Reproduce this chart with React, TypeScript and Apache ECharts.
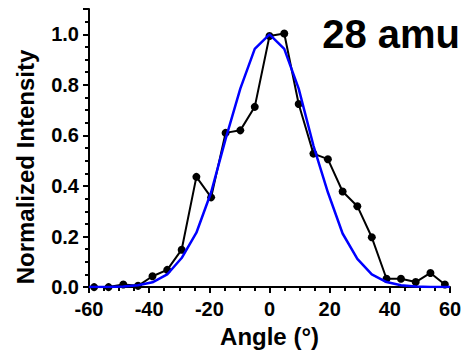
import React, { useEffect, useRef } from 'react';
import * as echarts from 'echarts';

const measuredAngles = [-58.3, -53.5, -48.6, -43.7, -38.9, -34.0, -29.2, -24.3, -19.4, -14.6, -9.7, -4.9, 0, 4.9, 9.7, 14.6, 19.4, 24.3, 29.2, 34.0, 38.9, 43.7, 48.6, 53.5, 58.3];
const measuredIntensity = [0.0, 0.0, 0.01, 0.005, 0.043, 0.068, 0.148, 0.436, 0.355, 0.61, 0.62, 0.713, 0.993, 1.003, 0.724, 0.528, 0.506, 0.378, 0.32, 0.197, 0.033, 0.033, 0.02, 0.056, 0.01];

const fitAngles = [-60, -58.3, -53.5, -48.6, -43.7, -38.9, -34.0, -29.2, -24.3, -19.4, -14.6, -9.7, -4.9, 0, 4.9, 9.7, 14.6, 19.4, 24.3, 29.2, 34.0, 38.9, 43.7, 48.6, 53.5, 58.3, 60];
const fitIntensity = [0, 0.0001, 0.0005, 0.002, 0.007, 0.019, 0.05, 0.115, 0.215, 0.375, 0.585, 0.785, 0.942, 1.0, 0.942, 0.785, 0.56, 0.375, 0.212, 0.112, 0.05, 0.02, 0.007, 0.002, 0.0005, 0.0001, 0];

const xMin = -60;
const xMax = 60;
const xStep = 20;
const yMin = 0;
const yMax = 1.1;
const yMajorStep = 0.2;
const yMinorStep = 0.05;

const title = '28 amu';
const xTitle = 'Angle (°)';
const yTitle = 'Normalized Intensity';

const FONT = '"Liberation Sans", Arial, sans-serif';

export default function App() {
  const ref = useRef<HTMLDivElement>(null);
  useEffect(() => {
    if (!ref.current) return;
    const chart = echarts.init(ref.current, undefined, { renderer: 'svg' });
    const measured = measuredAngles.map((a, i) => [a, measuredIntensity[i]]);
    const fit = fitAngles.map((a, i) => [a, fitIntensity[i]]);
    chart.setOption({
      animation: false,
      backgroundColor: '#ffffff',
      grid: { left: 89, right: 16, top: 9, bottom: 63, containLabel: false },
      xAxis: {
        type: 'value',
        min: xMin,
        max: xMax,
        interval: xStep,
        name: xTitle,
        nameLocation: 'middle',
        nameGap: 34,
        nameTextStyle: { fontFamily: FONT, fontWeight: 'bold', fontSize: 24, color: '#000' },
        axisLine: { show: true, onZero: false, lineStyle: { color: '#000', width: 2 } },
        axisTick: { show: true, inside: false, length: 6, lineStyle: { color: '#000', width: 2 } },
        minorTick: { show: true, splitNumber: 4, length: 4, lineStyle: { color: '#000', width: 2 } },
        splitLine: { show: false },
        axisLabel: { fontFamily: FONT, fontWeight: 'bold', fontSize: 20, color: '#000', margin: 12 },
      },
      yAxis: [
        {
          type: 'value',
          min: yMin,
          max: yMax,
          interval: yMinorStep,
          axisLine: { show: true, onZero: false, lineStyle: { color: '#000', width: 2 } },
          axisTick: { show: true, inside: false, length: 4, lineStyle: { color: '#000', width: 2 } },
          splitLine: { show: false },
          axisLabel: {
            fontFamily: FONT,
            fontWeight: 'bold',
            fontSize: 20,
            color: '#000',
            margin: 10,
            formatter: (v: number) => (Math.round(v * 100) % Math.round(yMajorStep * 100) === 0 ? v.toFixed(1) : ''),
          },
        },
        {
          type: 'value',
          min: yMin,
          max: yMax,
          interval: yMajorStep,
          position: 'left',
          axisLine: { show: false, onZero: false },
          axisTick: { show: true, inside: false, length: 6, lineStyle: { color: '#000', width: 2 } },
          splitLine: { show: false },
          axisLabel: { show: false },
        },
      ],
      graphic: [
        {
          type: 'text',
          x: 460,
          y: 34,
          style: { text: title, font: `bold 40px ${FONT}`, fill: '#000', align: 'right', verticalAlign: 'middle' },
        },
        {
          type: 'text',
          x: 25,
          y: 167,
          rotation: Math.PI / 2,
          style: { text: yTitle, font: `bold 24px ${FONT}`, fill: '#000', align: 'center', verticalAlign: 'middle' },
        },
      ],
      series: [
        {
          type: 'line',
          data: measured,
          symbol: 'circle',
          symbolSize: 8,
          itemStyle: { color: '#000' },
          lineStyle: { color: '#000', width: 2 },
          z: 2,
        },
        {
          type: 'line',
          data: fit,
          showSymbol: false,
          symbol: 'none',
          lineStyle: { color: '#0000ff', width: 2.5 },
          z: 3,
        },
      ],
    });
    return () => chart.dispose();
  }, []);
  return <div ref={ref} style={{ position: 'fixed', left: 0, top: 0, width: 466, height: 353 }} />;
}
